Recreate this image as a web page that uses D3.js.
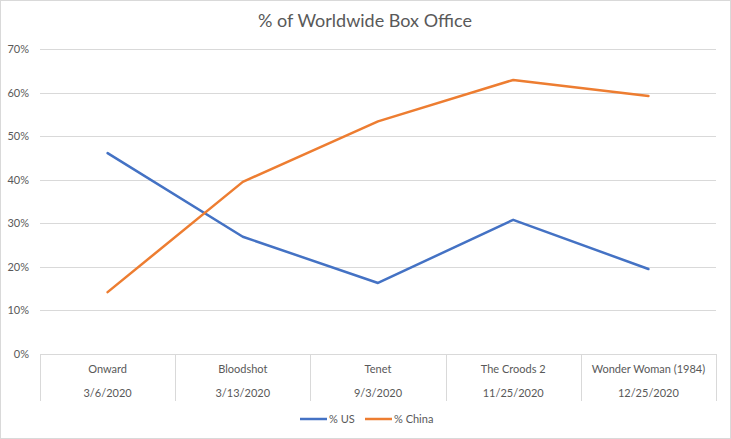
<!DOCTYPE html>
<html>
<head>
<meta charset="utf-8">
<script src="https://cdn.jsdelivr.net/npm/d3@7"></script>
<style>
  body { margin: 0; background: #fff; }
  text { font-family: Lato, "Open Sans", sans-serif; fill: #595959; }
</style>
</head>
<body>
<svg id="chart" width="731" height="439"></svg>
<script>
const movies = ["Onward", "Bloodshot", "Tenet", "The Croods 2", "Wonder Woman (1984)"];
const dates = ["3/6/2020", "3/13/2020", "9/3/2020", "11/25/2020", "12/25/2020"];
const usShare = [0.461, 0.269, 0.163, 0.308, 0.195];
const chinaShare = [0.142, 0.395, 0.534, 0.629, 0.592];
const yTicks = [0, 0.1, 0.2, 0.3, 0.4, 0.5, 0.6, 0.7];

const svg = d3.select("#chart");
const plot = { left: 40, right: 716, top: 49, bottom: 354 };

// outer chart border
svg.append("rect")
  .attr("x", 0.5).attr("y", 0.5)
  .attr("width", 730).attr("height", 438)
  .attr("fill", "#fff")
  .attr("stroke", "#d9d9d9");

const x = d3.scaleBand().domain(d3.range(movies.length)).range([plot.left, plot.right]);
const y = d3.scaleLinear().domain([0, 0.7]).range([plot.bottom, plot.top]);

// gridlines
svg.append("g")
  .selectAll("line")
  .data(yTicks.slice(1))
  .join("line")
  .attr("x1", plot.left).attr("x2", plot.right)
  .attr("y1", d => Math.round(y(d)) + 0.5)
  .attr("y2", d => Math.round(y(d)) + 0.5)
  .attr("stroke", "#d9d9d9");

// y labels
svg.append("g")
  .selectAll("text")
  .data(yTicks)
  .join("text")
  .attr("x", 29)
  .attr("y", d => y(d) + 4)
  .attr("text-anchor", "end")
  .attr("font-size", 11)
  .text(d3.format(".0%"));

// x axis line and category separators
svg.append("line")
  .attr("x1", plot.left).attr("x2", plot.right)
  .attr("y1", plot.bottom + 0.5).attr("y2", plot.bottom + 0.5)
  .attr("stroke", "#d9d9d9");

const edges = d3.range(movies.length + 1).map(i => i < movies.length ? x(i) : plot.right);
svg.append("g")
  .selectAll("line")
  .data(edges)
  .join("line")
  .attr("x1", d => Math.round(d) + 0.5).attr("x2", d => Math.round(d) + 0.5)
  .attr("y1", plot.bottom).attr("y2", 401)
  .attr("stroke", "#d9d9d9");

const cx = i => x(i) + x.bandwidth() / 2;

svg.append("g")
  .selectAll("text")
  .data(movies)
  .join("text")
  .attr("x", (d, i) => cx(i))
  .attr("y", 373)
  .attr("text-anchor", "middle")
  .attr("font-size", 11)
  .text(d => d);

svg.append("g")
  .selectAll("text")
  .data(dates)
  .join("text")
  .attr("x", (d, i) => cx(i))
  .attr("y", 397)
  .attr("text-anchor", "middle")
  .attr("font-size", 11)
  .text(d => d);

// lines
const line = d3.line()
  .x((d, i) => cx(i))
  .y(d => y(d));

const series = [
  { name: "% US", values: usShare, color: "#4472c4" },
  { name: "% China", values: chinaShare, color: "#ed7d31" }
];

svg.append("g")
  .selectAll("path")
  .data(series)
  .join("path")
  .attr("fill", "none")
  .attr("stroke", d => d.color)
  .attr("stroke-width", 2.5)
  .attr("stroke-linejoin", "round")
  .attr("stroke-linecap", "round")
  .attr("d", d => line(d.values));

// title
svg.append("text")
  .attr("x", 365)
  .attr("y", 27)
  .attr("text-anchor", "middle")
  .attr("font-size", 18)
  .text("% of Worldwide Box Office");

// legend
const legendPos = [300, 365];
const legend = svg.append("g")
  .selectAll("g")
  .data(series)
  .join("g")
  .attr("transform", (d, i) => `translate(${legendPos[i]},419)`);

legend.append("line")
  .attr("x1", 0).attr("x2", 27)
  .attr("stroke", d => d.color)
  .attr("stroke-width", 2.5);

legend.append("text")
  .attr("x", 29)
  .attr("y", 4)
  .attr("font-size", 11)
  .text(d => d.name);
</script>
</body>
</html>
